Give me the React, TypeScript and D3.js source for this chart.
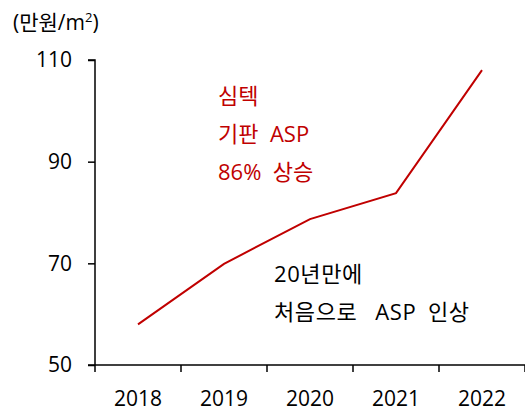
import React, { useRef, useEffect } from 'react'
import * as d3 from 'd3'

const years = ['2018', '2019', '2020', '2021', '2022']
const asp = [58.0, 69.9, 78.7, 83.8, 108.0]
const yTicks = [50, 70, 90, 110]

const W = 525
const H = 412
const FONT = "'Open Sans', 'Noto Sans CJK KR', sans-serif"
const RED = '#c00000'

const App = () => {
  const svgRef = useRef<SVGSVGElement>(null)

  useEffect(() => {
    const svg = d3.select(svgRef.current)
    svg.selectAll('*').remove()

    const x = d3.scaleBand().domain(years).range([95, 525])
    const y = d3.scaleLinear().domain([50, 110]).range([365, 60])

    // y axis
    const yAxis = d3.axisLeft(y).tickValues(yTicks).tickSize(7).tickPadding(16)
    const gy = svg.append('g').attr('transform', 'translate(95,0)').call(yAxis)
    gy.select('.domain').attr('d', `M-7,${y(110)}H0V${y(50)}`).attr('stroke', '#000').attr('stroke-width', 1.5)
    gy.selectAll('.tick line').attr('stroke', '#000').attr('stroke-width', 1.5)
    gy.selectAll('.tick text').attr('font-size', 21).attr('font-family', FONT).attr('fill', '#000')

    // x axis (ticks between categories)
    const gx = svg.append('g').attr('transform', `translate(0,${y(50)})`)
    gx.append('line').attr('x1', 88).attr('x2', 525).attr('stroke', '#000').attr('stroke-width', 1.5)
    const edges = years.map(d => x(d)!).concat([x(years[years.length - 1])! + x.bandwidth()])
    gx.selectAll('.edge').data(edges).join('line').attr('class', 'edge')
      .attr('x1', d => d).attr('x2', d => d).attr('y1', 0).attr('y2', 7)
      .attr('stroke', '#000').attr('stroke-width', 1.5)
    gx.selectAll('.lab').data(years).join('text').attr('class', 'lab')
      .attr('x', d => x(d)! + x.bandwidth() / 2).attr('y', 41)
      .attr('text-anchor', 'middle').attr('font-size', 21).attr('font-family', FONT)
      .text(d => d)

    // line
    const line = d3.line<number>()
      .x((_, i) => x(years[i])! + x.bandwidth() / 2)
      .y(d => y(d))
    svg.append('path').datum(asp).attr('d', line).attr('fill', 'none')
      .attr('stroke', RED).attr('stroke-width', 2)

    // unit label
    const unit = svg.append('text').attr('x', 13).attr('y', 30).attr('font-size', 21).attr('font-family', FONT)
    unit.append('tspan').text('(만원/m')
    unit.append('tspan').attr('font-size', 13).attr('dy', -8).text('2')
    unit.append('tspan').attr('dy', 8).text(')')

    // annotations
    const red = ['심텍', '기판\u00a0\u00a0ASP', '86%\u00a0\u00a0상승']
    svg.selectAll('.red').data(red).join('text').attr('class', 'red')
      .attr('x', 218).attr('y', (_, i) => 104 + i * 38)
      .attr('font-size', 22).attr('font-family', FONT).attr('fill', RED)
      .text(d => d)
    const blk = ['20년만에', '처음으로\u2002\u00a0ASP\u2002인상']
    svg.selectAll('.blk').data(blk).join('text').attr('class', 'blk')
      .attr('x', 274).attr('y', (_, i) => 282 + i * 38)
      .attr('font-size', 22).attr('letter-spacing', 0.6).attr('font-family', FONT).attr('fill', '#000')
      .text(d => d)
  }, [])

  return (
    <svg ref={svgRef} width={W} height={H}
      style={{ position: 'absolute', left: 0, top: 0, background: '#fff' }} />
  )
}

export default App
